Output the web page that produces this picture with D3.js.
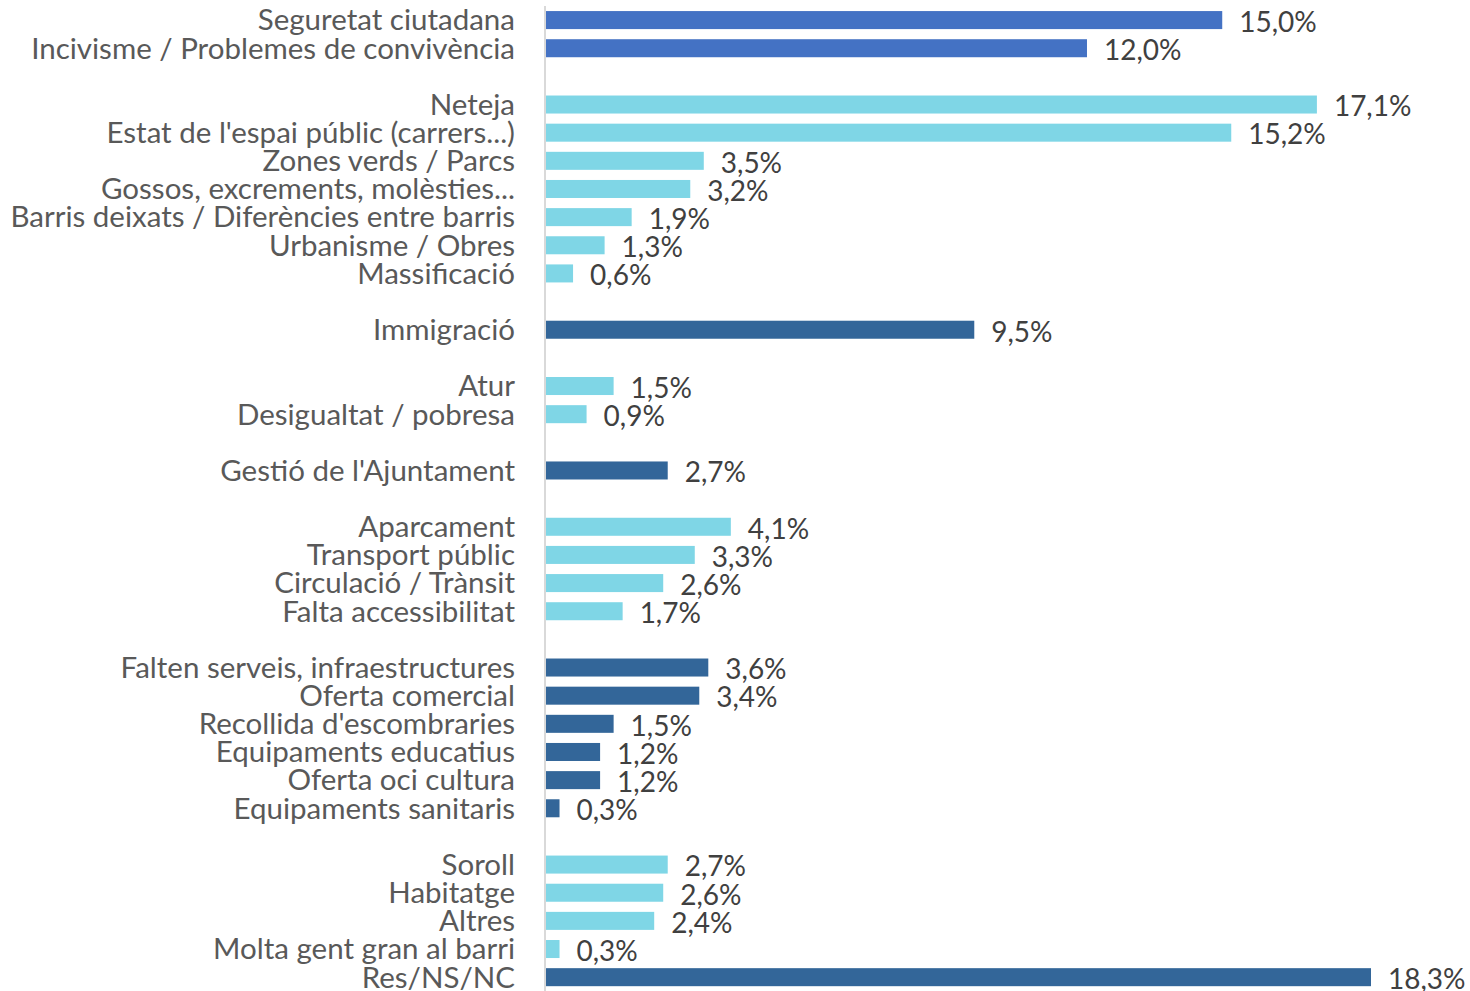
<!DOCTYPE html>
<html>
<head>
<meta charset="utf-8">
<script src="https://cdn.jsdelivr.net/npm/d3@7"></script>
<style>
  body { margin: 0; background: #fff; overflow: hidden; }
  text { font-family: Lato, "Open Sans", sans-serif; }
</style>
</head>
<body>
<script>
// categories, top to bottom
const categories = [
    "Seguretat ciutadana", "Incivisme / Problemes de convivència",
    "Neteja", "Estat de l'espai públic (carrers...)", "Zones verds / Parcs",
    "Gossos, excrements, molèsties...", "Barris deixats / Diferències entre barris",
    "Urbanisme / Obres", "Massificació",
    "Immigració",
    "Atur", "Desigualtat / pobresa",
    "Gestió de l'Ajuntament",
    "Aparcament", "Transport públic", "Circulació / Trànsit", "Falta accessibilitat",
    "Falten serveis, infraestructures", "Oferta comercial", "Recollida d'escombraries",
    "Equipaments educatius", "Oferta oci cultura", "Equipaments sanitaris",
    "Soroll", "Habitatge", "Altres", "Molta gent gran al barri",
    "Res/NS/NC"
];

// percentages
const values = [
    15.0, 12.0,
    17.1, 15.2, 3.5, 3.2, 1.9, 1.3, 0.6,
    9.5,
    1.5, 0.9,
    2.7,
    4.1, 3.3, 2.6, 1.7,
    3.6, 3.4, 1.5, 1.2, 1.2, 0.3,
    2.7, 2.6, 2.4, 0.3,
    18.3
];

// colour key of each bar
const shades = [
    "blue", "blue",
    "cyan", "cyan", "cyan", "cyan", "cyan", "cyan", "cyan",
    "dark",
    "cyan", "cyan",
    "dark",
    "cyan", "cyan", "cyan", "cyan",
    "dark", "dark", "dark", "dark", "dark", "dark",
    "cyan", "cyan", "cyan", "cyan",
    "dark"
];

// an empty row goes before each of these
const gapBefore = ["Neteja", "Immigració", "Atur", "Gestió de l'Ajuntament",
    "Aparcament", "Falten serveis, infraestructures", "Soroll"];

const shadeColor = {blue: "#4472C4", cyan: "#7FD6E6", dark: "#336699"};

const data = categories.map((c, i) => ({name: c, value: values[i], shade: shades[i]}));

// band domain with spacer rows
const rows = [];
categories.forEach(c => {
    if (gapBefore.includes(c)) rows.push("__gap" + rows.length);
    rows.push(c);
});

const width = 1470, height = 991;
const margin = {top: 6, right: 0, bottom: 0, left: 546};

const svg = d3.select("body").append("svg")
    .attr("width", width)
    .attr("height", height);

const y = d3.scaleBand()
    .domain(rows)
    .range([margin.top, margin.top + rows.length * 28.15])
    .paddingInner(0.36)
    .paddingOuter(0.18);

const x = d3.scaleLinear()
    .domain([0, 18.3])
    .range([margin.left, margin.left + 825]);

// bars
svg.append("g")
    .selectAll("rect")
    .data(data)
    .join("rect")
    .attr("x", x(0))
    .attr("y", d => y(d.name))
    .attr("width", d => x(d.value) - x(0))
    .attr("height", y.bandwidth())
    .attr("fill", d => shadeColor[d.shade]);

// vertical axis line
svg.append("line")
    .attr("x1", x(0) - 1).attr("x2", x(0) - 1)
    .attr("y1", margin.top).attr("y2", height)
    .attr("stroke", "#d9d9d9")
    .attr("stroke-width", 2);

// category labels
svg.append("g")
    .selectAll("text")
    .data(data)
    .join("text")
    .attr("x", x(0) - 31)
    .attr("y", d => y(d.name) + y.bandwidth() / 2)
    .attr("dy", "0.35em")
    .attr("text-anchor", "end")
    .attr("font-size", 29.5)
    .attr("fill", "#595959")
    .text(d => d.name);

// value labels
const fmt = v => v.toFixed(1).replace(".", ",") + "%";
svg.append("g")
    .selectAll("text")
    .data(data)
    .join("text")
    .attr("x", d => x(d.value) + 17)
    .attr("y", d => y(d.name) + y.bandwidth() / 2 + 2)
    .attr("dy", "0.35em")
    .attr("font-size", 28)
    .attr("fill", "#404040")
    .text(d => fmt(d.value));
</script>
</body>
</html>
